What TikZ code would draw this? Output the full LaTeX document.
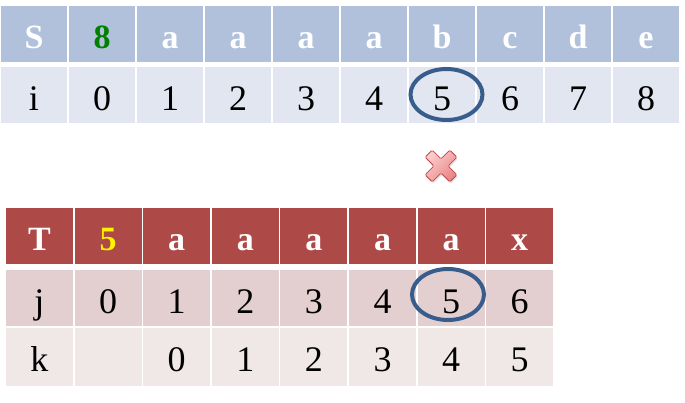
\documentclass[tikz,border=0pt]{standalone}
\usepackage{fontspec}
\setmainfont{Liberation Serif}
\usetikzlibrary{shapes.geometric,shadows}
\definecolor{sHead}{RGB}{177,193,219}
\definecolor{sRow}{RGB}{225,230,240}
\definecolor{tHead}{RGB}{173,73,71}
\definecolor{tRowJ}{RGB}{227,207,208}
\definecolor{tRowK}{RGB}{240,232,231}
\definecolor{ringBlue}{RGB}{56,93,140}
\definecolor{crossTop}{RGB}{252,205,205}
\definecolor{crossBot}{RGB}{232,135,135}
\definecolor{crossLine}{RGB}{192,72,72}
\definecolor{darkGreen}{RGB}{0,128,0}
\tikzset{
  cellbase/.style={rectangle, inner sep=0pt, text height=43pt, text depth=13pt, anchor=center},
  shead/.style={cellbase, fill=sHead, minimum width=66pt, minimum height=56pt, text=white, font=\fontsize{34}{38}\selectfont\bfseries},
  srow/.style={cellbase, fill=sRow, minimum width=66pt, minimum height=55pt, font=\fontsize{36}{40}\selectfont},
  thead/.style={cellbase, fill=tHead, minimum width=67pt, minimum height=56pt, text=white, font=\fontsize{34}{38}\selectfont\bfseries},
  trowj/.style={cellbase, fill=tRowJ, minimum width=67pt, minimum height=56pt, font=\fontsize{36}{40}\selectfont},
  trowk/.style={cellbase, fill=tRowK, minimum width=67pt, minimum height=58pt, text depth=14pt, font=\fontsize{36}{40}\selectfont},
  ring/.style={ellipse, draw=ringBlue, line width=4pt, inner sep=0pt}
}
\begin{document}
\begin{tikzpicture}[x=1pt,y=-1pt]
\useasboundingbox (0,0) rectangle (685,403);
% top table
\foreach \t [count=\n from 0] in {S,{\textcolor{darkGreen}{8}},a,a,a,a,b,c,d,e}{
  \node[shead] (s\n) at (34+68*\n,34) {\t};
}
\foreach \t [count=\n from 0] in {i,0,1,2,3,4,5,6,7,8}{
  \node[srow] (i\n) at (34+68*\n,95.5) {\t};
}
% bottom table
\foreach \t [count=\n from 0] in {T,{\textcolor{yellow}{5}},a,a,a,a,a,x}{
  \node[thead] (t\n) at (39.5+68.6*\n,236) {\t};
}
\foreach \t [count=\n from 0] in {j,0,1,2,3,4,5,6}{
  \node[trowj] (j\n) at (39.5+68.6*\n,298) {\t};
}
\foreach \t [count=\n from 0] in {k,{},0,1,2,3,4,5}{
  \node[trowk] (k\n) at (39.5+68.6*\n,357) {\t};
}
% rings
\node[ring, minimum width=72pt, minimum height=51pt] (ringtop) at (446.5,94.5) {};
\node[ring, minimum width=72pt, minimum height=51pt] (ringbot) at (448,294.5) {};
% cross mark
\begin{scope}[shift={(441,166)}, rotate=45]
\path[top color=crossTop, bottom color=crossBot, shading angle=45, draw=crossLine, line width=0.8pt, rounded corners=1.2pt,
  drop shadow={opacity=0.2, shadow xshift=1pt, shadow yshift=-2pt}]
  (5,5) -- (5,17.5) -- (-5,17.5) -- (-5,5) -- (-17.5,5) -- (-17.5,-5) -- (-5,-5) -- (-5,-17.5) -- (5,-17.5) -- (5,-5) -- (17.5,-5) -- (17.5,5) -- cycle;
\end{scope}
\end{tikzpicture}
\end{document}
